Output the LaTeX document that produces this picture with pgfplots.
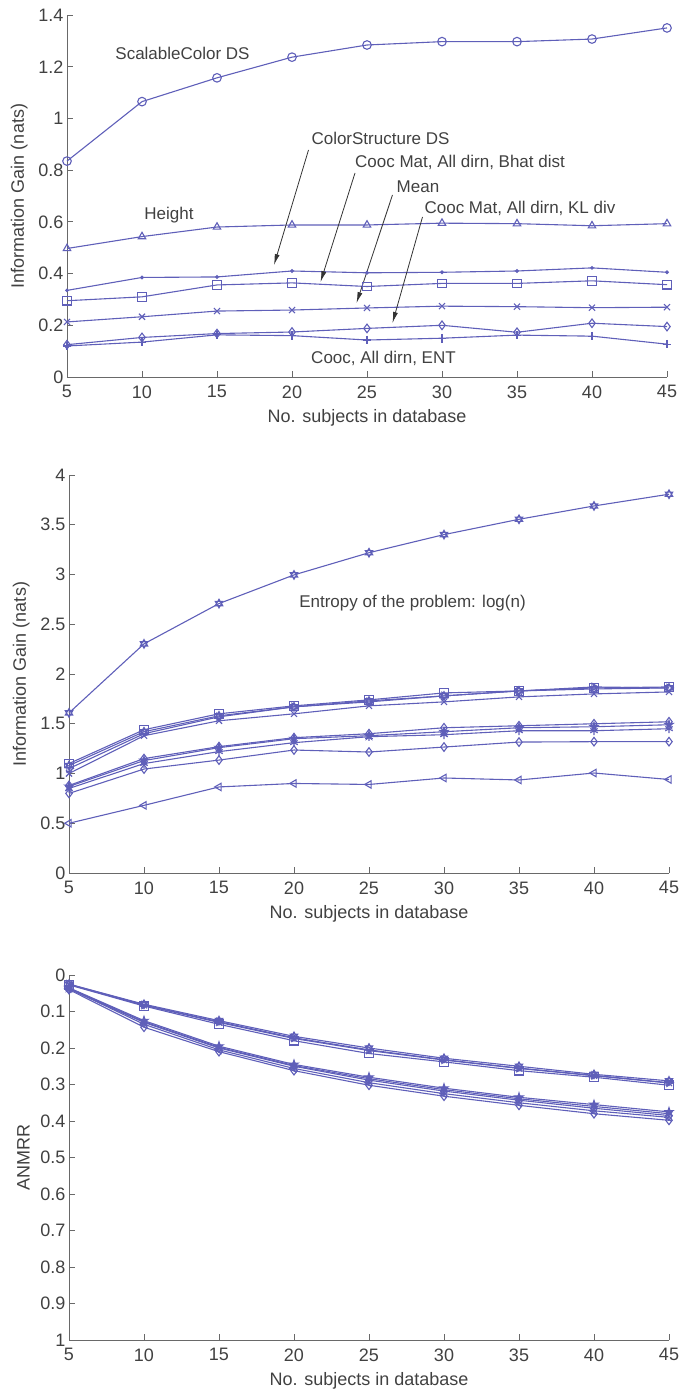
\documentclass[border=0pt]{standalone}
\usepackage{fontspec}
\setmainfont{Liberation Sans}
\usepackage{pgfplots}
\pgfplotsset{compat=1.18}
\usetikzlibrary{arrows.meta}
\definecolor{ln}{RGB}{95,95,185}
\definecolor{ax}{RGB}{105,105,105}
\definecolor{tx}{RGB}{65,65,65}
\pgfdeclareplotmark{hexagram}{%
 \pgfpathmoveto{\pgfqpointpolar{90}{\pgfplotmarksize}}%
 \pgfpathlineto{\pgfqpointpolar{210}{\pgfplotmarksize}}%
 \pgfpathlineto{\pgfqpointpolar{330}{\pgfplotmarksize}}%
 \pgfpathclose
 \pgfpathmoveto{\pgfqpointpolar{270}{\pgfplotmarksize}}%
 \pgfpathlineto{\pgfqpointpolar{30}{\pgfplotmarksize}}%
 \pgfpathlineto{\pgfqpointpolar{150}{\pgfplotmarksize}}%
 \pgfpathclose
 \pgfusepathqstroke}
\pgfdeclareplotmark{pentagram}{%
 \pgfpathmoveto{\pgfqpointpolar{90}{\pgfplotmarksize}}%
 \pgfpathlineto{\pgfqpointpolar{234}{\pgfplotmarksize}}%
 \pgfpathlineto{\pgfqpointpolar{18}{\pgfplotmarksize}}%
 \pgfpathlineto{\pgfqpointpolar{162}{\pgfplotmarksize}}%
 \pgfpathlineto{\pgfqpointpolar{306}{\pgfplotmarksize}}%
 \pgfpathclose
 \pgfusepathqfillstroke}
\pgfplotsset{mstyle/.style={scale only axis, width=600bp,
  axis x line*=bottom, axis y line*=left,
  xmin=5, xmax=45, xtick={5,10,...,45},
  tick align=inside,
  axis line style={ax, line width=0.8bp},
  tick style={ax, line width=0.8bp},
  major tick length=6bp,
  font=\fontsize{18bp}{20bp}\selectfont,
  ticklabel style={tx},
  xticklabel style={yshift=-5bp},
  label style={tx},
  xlabel style={yshift=-4bp},
  ylabel style={yshift=4bp},
  /pgf/number format/assume math mode=true,
  every axis plot/.append style={ln, line width=1.1bp, mark size=4.3bp, mark options={solid, fill=ln}},
  xlabel={No. subjects in database},
  clip=false}}
\begin{document}
\begin{tikzpicture}
\useasboundingbox (0,0) rectangle (681bp,-1389bp);
% ---------------- Panel 1 ----------------
\begin{axis}[mstyle, at={(67bp,-377bp)}, anchor=south west, height=362bp,
  ymin=0, ymax=1.4, ytick={0,0.2,...,1.4},
  yticklabels={0,0.2,0.4,0.6,0.8,1,1.2,1.4},
  ylabel={Information Gain (nats)}]
\addplot[mark=o] coordinates {(5,0.835)(10,1.065)(15,1.157)(20,1.237)(25,1.284)(30,1.297)(35,1.297)(40,1.307)(45,1.35)};
\addplot[mark=triangle] coordinates {(5,0.497)(10,0.543)(15,0.58)(20,0.588)(25,0.588)(30,0.595)(35,0.593)(40,0.585)(45,0.593)};
\addplot[mark=*, mark size=1.3bp] coordinates {(5,0.335)(10,0.385)(15,0.387)(20,0.41)(25,0.403)(30,0.405)(35,0.41)(40,0.422)(45,0.405)};
\addplot[mark=square] coordinates {(5,0.295)(10,0.31)(15,0.356)(20,0.364)(25,0.35)(30,0.362)(35,0.362)(40,0.372)(45,0.357)};
\addplot[mark=x] coordinates {(5,0.213)(10,0.233)(15,0.255)(20,0.259)(25,0.267)(30,0.274)(35,0.272)(40,0.268)(45,0.27)};
\addplot[mark=diamond] coordinates {(5,0.125)(10,0.153)(15,0.168)(20,0.174)(25,0.188)(30,0.2)(35,0.173)(40,0.208)(45,0.195)};
\addplot[mark=+] coordinates {(5,0.12)(10,0.135)(15,0.163)(20,0.16)(25,0.143)(30,0.15)(35,0.162)(40,0.158)(45,0.127)};
\begin{scope}[every node/.style={tx, font=\fontsize{17bp}{19bp}\selectfont}]
\node at (axis cs:12.7,1.25) {ScalableColor DS};
\node at (axis cs:25.9,0.924) {ColorStructure DS};
\node at (axis cs:31.2,0.828) {Cooc Mat, All dirn, Bhat dist};
\node at (axis cs:28.4,0.735) {Mean};
\node at (axis cs:11.8,0.626) {Height};
\node at (axis cs:35.2,0.653) {Cooc Mat, All dirn, KL div};
\node at (axis cs:26.1,0.073) {Cooc, All dirn, ENT};
\end{scope}
\begin{scope}[black!80, line width=0.8bp, -{Latex[length=11bp,width=5bp]}]
\draw (axis cs:21.1,0.878) -- (axis cs:18.8,0.433);
\draw (axis cs:24.2,0.789) -- (axis cs:21.9,0.367);
\draw (axis cs:26.7,0.704) -- (axis cs:24.3,0.286);
\draw (axis cs:28.7,0.619) -- (axis cs:26.7,0.209);
\end{scope}
\end{axis}
% ---------------- Panel 2 ----------------
\begin{axis}[mstyle, at={(69bp,-873bp)}, anchor=south west, height=398bp,
  ymin=0, ymax=4, ytick={0,0.5,...,4},
  yticklabels={0,0.5,1,1.5,2,2.5,3,3.5,4},
  ylabel={Information Gain (nats)}]
\addplot[mark=hexagram] coordinates {(5,1.609)(10,2.303)(15,2.708)(20,2.996)(25,3.219)(30,3.401)(35,3.555)(40,3.689)(45,3.807)};
\addplot[mark=square] coordinates {(5,1.1)(10,1.44)(15,1.6)(20,1.68)(25,1.74)(30,1.81)(35,1.83)(40,1.86)(45,1.87)};
\addplot[mark=hexagram] coordinates {(5,1.08)(10,1.42)(15,1.58)(20,1.67)(25,1.73)(30,1.78)(35,1.83)(40,1.85)(45,1.86)};
\addplot[mark=x] coordinates {(5,1.0)(10,1.38)(15,1.53)(20,1.6)(25,1.68)(30,1.72)(35,1.77)(40,1.8)(45,1.82)};
\addplot[mark=triangle, mark options={rotate=-90}] coordinates {(5,1.05)(10,1.4)(15,1.57)(20,1.67)(25,1.72)(30,1.78)(35,1.83)(40,1.87)(45,1.86)};
\addplot[mark=diamond] coordinates {(5,0.88)(10,1.15)(15,1.27)(20,1.36)(25,1.4)(30,1.46)(35,1.48)(40,1.5)(45,1.52)};
\addplot[mark=pentagram] coordinates {(5,0.87)(10,1.13)(15,1.26)(20,1.35)(25,1.38)(30,1.42)(35,1.46)(40,1.47)(45,1.49)};
\addplot[mark=asterisk] coordinates {(5,0.85)(10,1.1)(15,1.22)(20,1.31)(25,1.37)(30,1.39)(35,1.43)(40,1.43)(45,1.45)};
\addplot[mark=diamond] coordinates {(5,0.8)(10,1.045)(15,1.135)(20,1.236)(25,1.216)(30,1.266)(35,1.316)(40,1.32)(45,1.32)};
\addplot[mark=triangle, mark options={rotate=90}] coordinates {(5,0.5)(10,0.68)(15,0.865)(20,0.9)(25,0.89)(30,0.955)(35,0.935)(40,1.005)(45,0.94)};
\node[tx, font=\fontsize{17bp}{19bp}\selectfont] at (axis cs:27.9,2.71) {Entropy of the problem: log(n)};
\end{axis}
% ---------------- Panel 3 ----------------
\begin{axis}[mstyle, at={(69bp,-1340bp)}, anchor=south west, height=365bp,
  y dir=reverse, ymin=0, ymax=1, ytick={0,0.1,...,1},
  yticklabels={0,0.1,0.2,0.3,0.4,0.5,0.6,0.7,0.8,0.9,1},
  ylabel={ANMRR}]
\addplot[mark=hexagram] coordinates {(5,0.025)(10,0.08)(15,0.125)(20,0.168)(25,0.2)(30,0.228)(35,0.25)(40,0.272)(45,0.29)};
\addplot[mark=square] coordinates {(5,0.027)(10,0.085)(15,0.135)(20,0.18)(25,0.215)(30,0.238)(35,0.262)(40,0.28)(45,0.302)};
\addplot[mark=x] coordinates {(5,0.026)(10,0.083)(15,0.13)(20,0.174)(25,0.207)(30,0.233)(35,0.256)(40,0.276)(45,0.296)};
\addplot[mark=triangle, mark options={rotate=-90}] coordinates {(5,0.025)(10,0.082)(15,0.128)(20,0.172)(25,0.205)(30,0.232)(35,0.255)(40,0.275)(45,0.295)};
\addplot[mark=diamond] coordinates {(5,0.04)(10,0.143)(15,0.21)(20,0.262)(25,0.302)(30,0.332)(35,0.357)(40,0.38)(45,0.398)};
\addplot[mark=pentagram] coordinates {(5,0.035)(10,0.125)(15,0.195)(20,0.245)(25,0.28)(30,0.31)(35,0.335)(40,0.355)(45,0.375)};
\addplot[mark=diamond] coordinates {(5,0.038)(10,0.13)(15,0.2)(20,0.25)(25,0.288)(30,0.318)(35,0.343)(40,0.365)(45,0.385)};
\addplot[mark=asterisk] coordinates {(5,0.036)(10,0.128)(15,0.198)(20,0.248)(25,0.284)(30,0.314)(35,0.339)(40,0.36)(45,0.38)};
\addplot[mark=triangle, mark options={rotate=90}] coordinates {(5,0.037)(10,0.135)(15,0.205)(20,0.256)(25,0.295)(30,0.325)(35,0.35)(40,0.372)(45,0.39)};
\end{axis}
\end{tikzpicture}
\end{document}
